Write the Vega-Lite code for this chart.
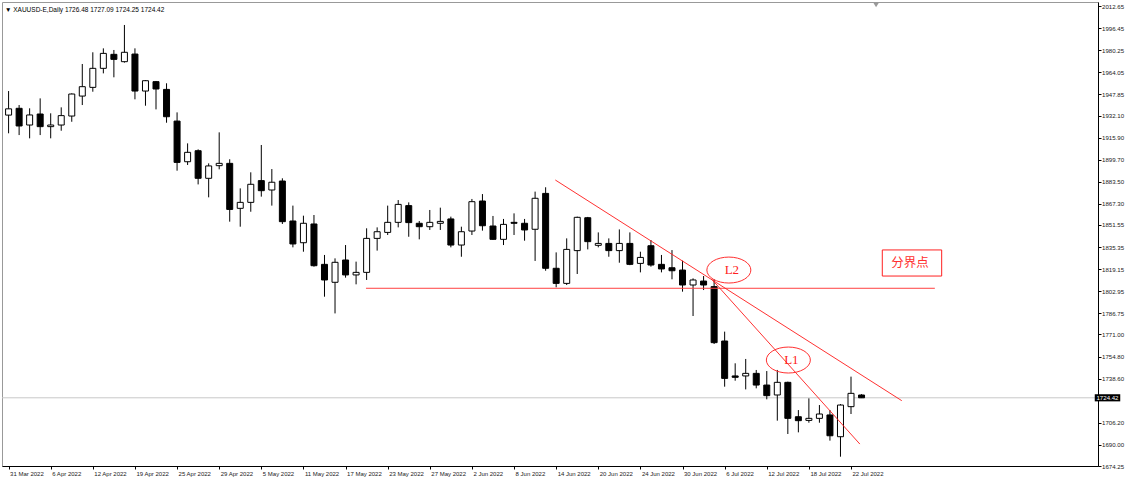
{
  "$schema": "https://vega.github.io/schema/vega-lite/v6.json",
  "width": 1096,
  "height": 464,
  "autosize": "none",
  "padding": {"left": 2, "top": 2, "right": 27, "bottom": 16},
  "background": "white",
  "config": {
    "view": {"stroke": "#999", "strokeWidth": 1},
    "font": "Liberation Sans",
    "axis": {"labelOverlap": false, "labelFlush": false, "labelBound": false, "grid": false}
  },
  "title": {
    "text": "▼ XAUUSD-E,Daily  1726.48 1727.09 1724.25 1724.42",
    "anchor": "start",
    "frame": "group",
    "orient": "top",
    "offset": 0,
    "dy": 11,
    "dx": 3,
    "fontSize": 6.5,
    "fontWeight": "normal",
    "font": "Liberation Sans",
    "color": "#000"
  },
  "datasets": {
    "bars": [
      {"i": 0, "o": 1932.4, "h": 1950.1, "l": 1919.0, "c": 1937.0},
      {"i": 1, "o": 1937.4, "h": 1939.8, "l": 1917.7, "c": 1924.4},
      {"i": 2, "o": 1925.1, "h": 1937.4, "l": 1915.3, "c": 1932.5},
      {"i": 3, "o": 1933.2, "h": 1944.7, "l": 1917.7, "c": 1923.9},
      {"i": 4, "o": 1923.9, "h": 1933.7, "l": 1915.3, "c": 1925.1},
      {"i": 5, "o": 1925.1, "h": 1938.1, "l": 1920.9, "c": 1932.0},
      {"i": 6, "o": 1931.7, "h": 1948.4, "l": 1927.5, "c": 1947.9},
      {"i": 7, "o": 1946.4, "h": 1970.0, "l": 1939.8, "c": 1953.3},
      {"i": 8, "o": 1952.8, "h": 1978.6, "l": 1949.6, "c": 1966.8},
      {"i": 9, "o": 1966.8, "h": 1981.5, "l": 1963.1, "c": 1977.8},
      {"i": 10, "o": 1977.1, "h": 1980.3, "l": 1960.2, "c": 1973.4},
      {"i": 11, "o": 1971.7, "h": 1998.7, "l": 1971.0, "c": 1978.6},
      {"i": 12, "o": 1977.3, "h": 1981.5, "l": 1944.0, "c": 1950.1},
      {"i": 13, "o": 1950.1, "h": 1958.2, "l": 1939.3, "c": 1957.7},
      {"i": 14, "o": 1957.0, "h": 1957.5, "l": 1936.6, "c": 1951.6},
      {"i": 15, "o": 1951.3, "h": 1955.8, "l": 1926.8, "c": 1931.2},
      {"i": 16, "o": 1928.0, "h": 1934.4, "l": 1891.5, "c": 1897.6},
      {"i": 17, "o": 1898.1, "h": 1911.6, "l": 1895.7, "c": 1905.0},
      {"i": 18, "o": 1906.2, "h": 1907.2, "l": 1881.4, "c": 1885.9},
      {"i": 19, "o": 1885.9, "h": 1896.9, "l": 1871.9, "c": 1895.0},
      {"i": 20, "o": 1895.2, "h": 1919.7, "l": 1892.5, "c": 1896.9},
      {"i": 21, "o": 1896.9, "h": 1899.9, "l": 1854.0, "c": 1863.0},
      {"i": 22, "o": 1863.8, "h": 1878.5, "l": 1850.3, "c": 1868.2},
      {"i": 23, "o": 1868.2, "h": 1890.3, "l": 1861.3, "c": 1881.5},
      {"i": 24, "o": 1884.2, "h": 1910.4, "l": 1872.4, "c": 1876.8},
      {"i": 25, "o": 1877.3, "h": 1892.7, "l": 1865.8, "c": 1883.0},
      {"i": 26, "o": 1883.9, "h": 1885.9, "l": 1852.3, "c": 1854.0},
      {"i": 27, "o": 1854.5, "h": 1865.8, "l": 1835.1, "c": 1837.6},
      {"i": 28, "o": 1838.5, "h": 1858.4, "l": 1831.9, "c": 1852.8},
      {"i": 29, "o": 1852.3, "h": 1858.9, "l": 1820.9, "c": 1821.6},
      {"i": 30, "o": 1822.6, "h": 1829.5, "l": 1798.8, "c": 1811.1},
      {"i": 31, "o": 1809.4, "h": 1827.0, "l": 1786.5, "c": 1824.1},
      {"i": 32, "o": 1825.8, "h": 1836.8, "l": 1812.8, "c": 1814.8},
      {"i": 33, "o": 1814.8, "h": 1824.6, "l": 1807.9, "c": 1816.7},
      {"i": 34, "o": 1816.7, "h": 1849.1, "l": 1811.1, "c": 1841.7},
      {"i": 35, "o": 1841.7, "h": 1849.8, "l": 1832.7, "c": 1846.6},
      {"i": 36, "o": 1846.1, "h": 1865.8, "l": 1844.2, "c": 1853.5},
      {"i": 37, "o": 1853.5, "h": 1869.9, "l": 1849.8, "c": 1866.7},
      {"i": 38, "o": 1865.8, "h": 1868.2, "l": 1842.9, "c": 1853.3},
      {"i": 39, "o": 1852.8, "h": 1854.5, "l": 1841.0, "c": 1850.3},
      {"i": 40, "o": 1850.3, "h": 1862.6, "l": 1847.9, "c": 1853.5},
      {"i": 41, "o": 1852.8, "h": 1864.3, "l": 1847.9, "c": 1854.2},
      {"i": 42, "o": 1856.0, "h": 1857.7, "l": 1835.1, "c": 1836.8},
      {"i": 43, "o": 1836.8, "h": 1850.3, "l": 1828.2, "c": 1846.6},
      {"i": 44, "o": 1847.1, "h": 1870.7, "l": 1844.2, "c": 1868.7},
      {"i": 45, "o": 1869.2, "h": 1874.3, "l": 1847.4, "c": 1851.0},
      {"i": 46, "o": 1850.8, "h": 1858.2, "l": 1840.6, "c": 1841.0},
      {"i": 47, "o": 1841.0, "h": 1856.0, "l": 1836.8, "c": 1852.0},
      {"i": 48, "o": 1853.5, "h": 1860.1, "l": 1844.2, "c": 1852.8},
      {"i": 49, "o": 1852.8, "h": 1856.0, "l": 1840.0, "c": 1847.9},
      {"i": 50, "o": 1848.4, "h": 1876.1, "l": 1825.1, "c": 1871.2},
      {"i": 51, "o": 1874.8, "h": 1879.3, "l": 1817.9, "c": 1819.7},
      {"i": 52, "o": 1819.7, "h": 1831.4, "l": 1805.7, "c": 1808.6},
      {"i": 53, "o": 1808.6, "h": 1841.7, "l": 1807.4, "c": 1833.6},
      {"i": 54, "o": 1832.7, "h": 1857.7, "l": 1815.5, "c": 1857.2},
      {"i": 55, "o": 1856.9, "h": 1857.5, "l": 1833.6, "c": 1839.3},
      {"i": 56, "o": 1836.6, "h": 1846.1, "l": 1835.1, "c": 1838.0},
      {"i": 57, "o": 1838.0, "h": 1841.7, "l": 1828.2, "c": 1832.7},
      {"i": 58, "o": 1832.7, "h": 1848.3, "l": 1823.8, "c": 1838.0},
      {"i": 59, "o": 1838.0, "h": 1846.1, "l": 1822.0, "c": 1822.6},
      {"i": 60, "o": 1823.3, "h": 1831.9, "l": 1816.7, "c": 1827.7},
      {"i": 61, "o": 1836.3, "h": 1840.5, "l": 1820.9, "c": 1822.1},
      {"i": 62, "o": 1822.6, "h": 1829.5, "l": 1816.7, "c": 1819.2},
      {"i": 63, "o": 1820.1, "h": 1833.1, "l": 1811.6, "c": 1817.9},
      {"i": 64, "o": 1818.4, "h": 1825.3, "l": 1802.5, "c": 1807.4},
      {"i": 65, "o": 1807.4, "h": 1812.3, "l": 1784.6, "c": 1811.1},
      {"i": 66, "o": 1810.3, "h": 1814.0, "l": 1803.7, "c": 1807.4},
      {"i": 67, "o": 1806.2, "h": 1811.6, "l": 1764.0, "c": 1765.0},
      {"i": 68, "o": 1766.2, "h": 1773.1, "l": 1732.6, "c": 1738.7},
      {"i": 69, "o": 1740.5, "h": 1749.8, "l": 1737.0, "c": 1739.5},
      {"i": 70, "o": 1740.5, "h": 1753.0, "l": 1730.6, "c": 1742.4},
      {"i": 71, "o": 1742.4, "h": 1744.9, "l": 1731.4, "c": 1733.8},
      {"i": 72, "o": 1733.8, "h": 1744.1, "l": 1723.3, "c": 1726.0},
      {"i": 73, "o": 1726.5, "h": 1744.9, "l": 1707.6, "c": 1735.8},
      {"i": 74, "o": 1735.8, "h": 1736.3, "l": 1697.8, "c": 1709.3},
      {"i": 75, "o": 1710.5, "h": 1715.4, "l": 1699.0, "c": 1707.6},
      {"i": 76, "o": 1707.8, "h": 1724.0, "l": 1706.1, "c": 1709.3},
      {"i": 77, "o": 1709.3, "h": 1719.1, "l": 1706.1, "c": 1712.5},
      {"i": 78, "o": 1711.8, "h": 1715.4, "l": 1692.9, "c": 1696.5},
      {"i": 79, "o": 1695.8, "h": 1719.8, "l": 1681.1, "c": 1719.1},
      {"i": 80, "o": 1717.9, "h": 1740.0, "l": 1712.5, "c": 1727.7},
      {"i": 81, "o": 1726.48, "h": 1727.09, "l": 1724.25, "c": 1724.42}
    ],
    "trend": [
      {"x": 51.92, "y": 1884.65, "x2": 84.82, "y2": 1722.3},
      {"x": 66.78, "y": 1811.6, "x2": 80.84, "y2": 1690.4}
    ],
    "level": [{"x": 33.94, "x2": 87.96, "y": 1805.0}],
    "ellipses": [
      {"x": 68.4, "y": 1818.4, "t": "L2"},
      {"x": 74.05, "y": 1752.2, "t": "L1"}
    ],
    "box": [{"x": 82.97, "x2": 88.61, "y": 1833.2, "y2": 1814.0, "xc": 85.6, "yc": 1823.8, "t": "分界点"}],
    "price": [{"x": 102.98, "p": 1724.42, "t": "1724.42"}],
    "shift": [{"x": 82.38, "y": 2015.6}]
  },
  "layer": [
    {
      "data": {"name": "price"},
      "mark": {"type": "rule", "color": "#c8c8c8", "strokeWidth": 1},
      "encoding": {
        "y": {"field": "p", "type": "quantitative", "scale": {"domain": [1674.25, 2015.6], "nice": false, "zero": false}, "axis": {
          "orient": "right",
          "values": [2012.65, 1996.45, 1980.25, 1964.05, 1947.85, 1932.10, 1915.90, 1899.70, 1883.50, 1867.30, 1851.55, 1835.35, 1819.15, 1802.95, 1786.75, 1771.00, 1754.80, 1738.60, 1706.20, 1690.00, 1674.25],
          "tickCount": 100,
          "format": ".2f",
          "title": null,
          "grid": false,
          "domainColor": "#000",
          "tickColor": "#000",
          "tickSize": 3,
          "labelPadding": 0.5,
          "labelFontSize": 6.1,
          "labelColor": "#222",
          "labelOverlap": false,
          "labelFlush": false,
          "labelBound": false
        }}
      }
    },
    {
      "data": {"name": "bars"},
      "mark": {"type": "rule", "color": "#000", "strokeWidth": 1, "clip": true},
      "encoding": {
        "x": {"field": "i", "type": "quantitative", "scale": {"domain": [-0.15, 102.98], "nice": false, "zero": false}, "axis": {
          "orient": "bottom",
          "values": [0, 4, 8, 12, 16, 20, 24, 28, 32, 36, 40, 44, 48, 52, 56, 60, 64, 68, 72, 76, 80],
          "tickCount": 100,
          "labelExpr": "['31 Mar 2022','6 Apr 2022','12 Apr 2022','19 Apr 2022','25 Apr 2022','29 Apr 2022','5 May 2022','11 May 2022','17 May 2022','23 May 2022','27 May 2022','2 Jun 2022','8 Jun 2022','14 Jun 2022','20 Jun 2022','24 Jun 2022','30 Jun 2022','6 Jul 2022','12 Jul 2022','18 Jul 2022','22 Jul 2022'][datum.value/4]",
          "labelAlign": "left",
          "labelOffset": 1,
          "labelPadding": 1,
          "labelFontSize": 6,
          "labelColor": "#222",
          "labelOverlap": false,
          "labelFlush": false,
          "labelBound": false,
          "title": null,
          "grid": false,
          "domainColor": "#000",
          "tickColor": "#000",
          "tickSize": 3
        }},
        "y": {"field": "l", "type": "quantitative", "axis": {
          "orient": "right",
          "values": [2012.65, 1996.45, 1980.25, 1964.05, 1947.85, 1932.10, 1915.90, 1899.70, 1883.50, 1867.30, 1851.55, 1835.35, 1819.15, 1802.95, 1786.75, 1771.00, 1754.80, 1738.60, 1706.20, 1690.00, 1674.25],
          "tickCount": 100,
          "format": ".2f",
          "title": null,
          "grid": false,
          "domainColor": "#000",
          "tickColor": "#000",
          "tickSize": 3,
          "labelPadding": 0.5,
          "labelFontSize": 6.1,
          "labelColor": "#222",
          "labelOverlap": false,
          "labelFlush": false,
          "labelBound": false
        }},
        "y2": {"field": "h"}
      }
    },
    {
      "data": {"name": "bars"},
      "mark": {"type": "bar", "size": 6, "stroke": "#000", "strokeWidth": 1, "orient": "vertical", "clip": true},
      "encoding": {
        "x": {"field": "i", "type": "quantitative"},
        "y": {"field": "o", "type": "quantitative"},
        "y2": {"field": "c"},
        "fill": {"condition": {"test": "datum.c >= datum.o", "value": "#ffffff"}, "value": "#000000"}
      }
    },
    {
      "data": {"name": "level"},
      "mark": {"type": "rule", "color": "#ff4040", "strokeWidth": 1},
      "encoding": {
        "x": {"field": "x", "type": "quantitative"},
        "x2": {"field": "x2"},
        "y": {"field": "y", "type": "quantitative"}
      }
    },
    {
      "data": {"name": "trend"},
      "mark": {"type": "rule", "color": "#ff1a1a", "strokeWidth": 0.9},
      "encoding": {
        "x": {"field": "x", "type": "quantitative"},
        "x2": {"field": "x2"},
        "y": {"field": "y", "type": "quantitative"},
        "y2": {"field": "y2"}
      }
    },
    {
      "data": {"name": "ellipses"},
      "mark": {"type": "point", "shape": "M -1 0 A 1 0.59 0 1 0 1 0 A 1 0.59 0 1 0 -1 0 Z", "size": 1936, "filled": false, "stroke": "#ff3030", "strokeWidth": 1, "opacity": 1},
      "encoding": {
        "x": {"field": "x", "type": "quantitative"},
        "y": {"field": "y", "type": "quantitative"}
      }
    },
    {
      "data": {"name": "ellipses"},
      "mark": {"type": "text", "font": "Liberation Serif", "fontSize": 13, "color": "#ff2020", "align": "center", "baseline": "middle", "dx": 3},
      "encoding": {
        "x": {"field": "x", "type": "quantitative"},
        "y": {"field": "y", "type": "quantitative"},
        "text": {"field": "t"}
      }
    },
    {
      "data": {"name": "box"},
      "mark": {"type": "rect", "filled": false, "stroke": "#ff2020", "strokeWidth": 1},
      "encoding": {
        "x": {"field": "x", "type": "quantitative"},
        "x2": {"field": "x2"},
        "y": {"field": "y", "type": "quantitative"},
        "y2": {"field": "y2"}
      }
    },
    {
      "data": {"name": "box"},
      "mark": {"type": "text", "font": "Noto Sans CJK SC", "fontSize": 12.5, "color": "#ff3030", "align": "center", "baseline": "middle"},
      "encoding": {
        "x": {"field": "xc", "type": "quantitative"},
        "y": {"field": "yc", "type": "quantitative"},
        "text": {"field": "t"}
      }
    },
    {
      "data": {"name": "shift"},
      "mark": {"type": "point", "shape": "triangle-down", "size": 30, "filled": true, "color": "#999", "opacity": 1, "yOffset": 3},
      "encoding": {
        "x": {"field": "x", "type": "quantitative"},
        "y": {"field": "y", "type": "quantitative"}
      }
    },
    {
      "data": {"name": "price"},
      "mark": {"type": "point", "shape": "M -1 -0.28 L 1 -0.28 L 1 0.28 L -1 0.28 Z", "size": 650, "filled": true, "color": "#000", "opacity": 1, "xOffset": 14.5},
      "encoding": {
        "x": {"field": "x", "type": "quantitative"},
        "y": {"field": "p", "type": "quantitative"}
      }
    },
    {
      "data": {"name": "price"},
      "mark": {"type": "text", "fontSize": 6.1, "color": "#fff", "align": "center", "baseline": "middle", "dx": 14.5},
      "encoding": {
        "x": {"field": "x", "type": "quantitative"},
        "y": {"field": "p", "type": "quantitative"},
        "text": {"field": "t"}
      }
    }
  ]
}
